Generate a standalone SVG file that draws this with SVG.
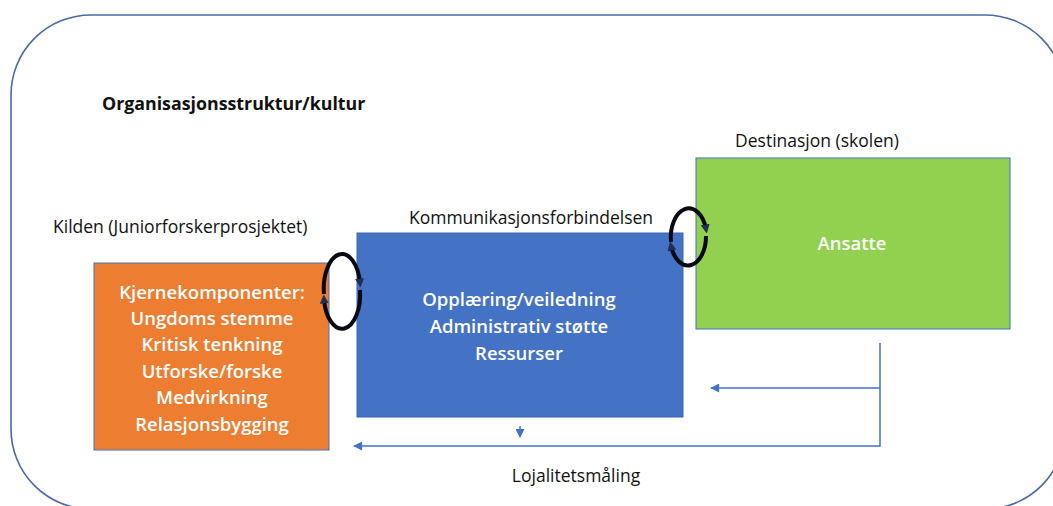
<svg xmlns="http://www.w3.org/2000/svg" width="1053" height="506" viewBox="0 0 1053 506">
<defs>
<style>
.lbl{font-family:"Open Sans","Liberation Sans",sans-serif;font-size:17.5px;fill:#111}
.ttl{font-family:"Open Sans","Liberation Sans",sans-serif;font-size:17.8px;font-weight:bold;fill:#111}
.in{font-family:"Open Sans","Liberation Sans",sans-serif;font-size:18.5px;font-weight:600;fill:#fff;text-anchor:middle}
.con{stroke:#4472C4;stroke-width:1.5;fill:none}
.loop{stroke:#0a0a14;stroke-width:4;fill:none}
</style>
<marker id="ah" viewBox="0 0 10 10" refX="9" refY="5" markerWidth="10" markerHeight="9" markerUnits="userSpaceOnUse" orient="auto">
<path d="M0,0 L10,5 L0,10 z" fill="#4472C4"/>
</marker>
<marker id="lh" viewBox="0 0 10 10" refX="5" refY="5" markerWidth="9" markerHeight="9" markerUnits="userSpaceOnUse" orient="auto">
<path d="M0,0 L10,5 L0,10 z" fill="#1f2f55"/>
</marker>
</defs>
<rect width="1053" height="506" fill="#fff"/>
<g id="frame">
<rect x="11" y="15" width="1054" height="494" rx="80" ry="80" fill="none" stroke="#4a69a6" stroke-width="1.6"/>
<text class="ttl" x="102" y="110">Organisasjonsstruktur/kultur</text>
</g>
<g id="kilden">
<text class="lbl" x="53" y="233">Kilden (Juniorforskerprosjektet)</text>
<rect x="94" y="263" width="235" height="187" fill="#ED7D31" stroke="#4472C4" stroke-width="1"/>
<text class="in" x="212" y="299">Kjernekomponenter:</text>
<text class="in" x="212" y="325">Ungdoms stemme</text>
<text class="in" x="212" y="351">Kritisk tenkning</text>
<text class="in" x="212" y="378">Utforske/forske</text>
<text class="in" x="212" y="404">Medvirkning</text>
<text class="in" x="212" y="431">Relasjonsbygging</text>
</g>
<g id="kommunikasjon">
<text class="lbl" x="531" y="224" text-anchor="middle">Kommunikasjonsforbindelsen</text>
<rect x="357" y="233" width="326" height="184" fill="#4472C4" stroke="#3d65ad" stroke-width="1"/>
<text class="in" x="519" y="306">Opplæring/veiledning</text>
<text class="in" x="519" y="333">Administrativ støtte</text>
<text class="in" x="519" y="360">Ressurser</text>
</g>
<g id="destinasjon">
<text class="lbl" x="817" y="147" text-anchor="middle">Destinasjon (skolen)</text>
<rect x="696" y="158" width="314" height="171" fill="#92D050" stroke="#4472C4" stroke-width="1"/>
<text class="in" x="852" y="250">Ansatte</text>
</g>
<g id="lojalitet">
<text class="lbl" x="576" y="482" text-anchor="middle">Lojalitetsmåling</text>
</g>
<g id="connectors">
<path class="con" d="M880,343 V446 H354" marker-end="url(#ah)"/>
<path class="con" d="M880,388 H711" marker-end="url(#ah)"/>
<path class="con" d="M520,426 V437" marker-end="url(#ah)"/>
<path class="loop" d="M324,294 A18,34 0 0 1 360,283" marker-end="url(#lh)"/>
<path class="loop" d="M360,290 A18,34 0 0 1 324,299" marker-end="url(#lh)"/>
<path class="loop" d="M671,242 A18,29 0 0 1 706,229" marker-end="url(#lh)"/>
<path class="loop" d="M706,236 A18,29 0 0 1 671,246" marker-end="url(#lh)"/>
</g>
</svg>
